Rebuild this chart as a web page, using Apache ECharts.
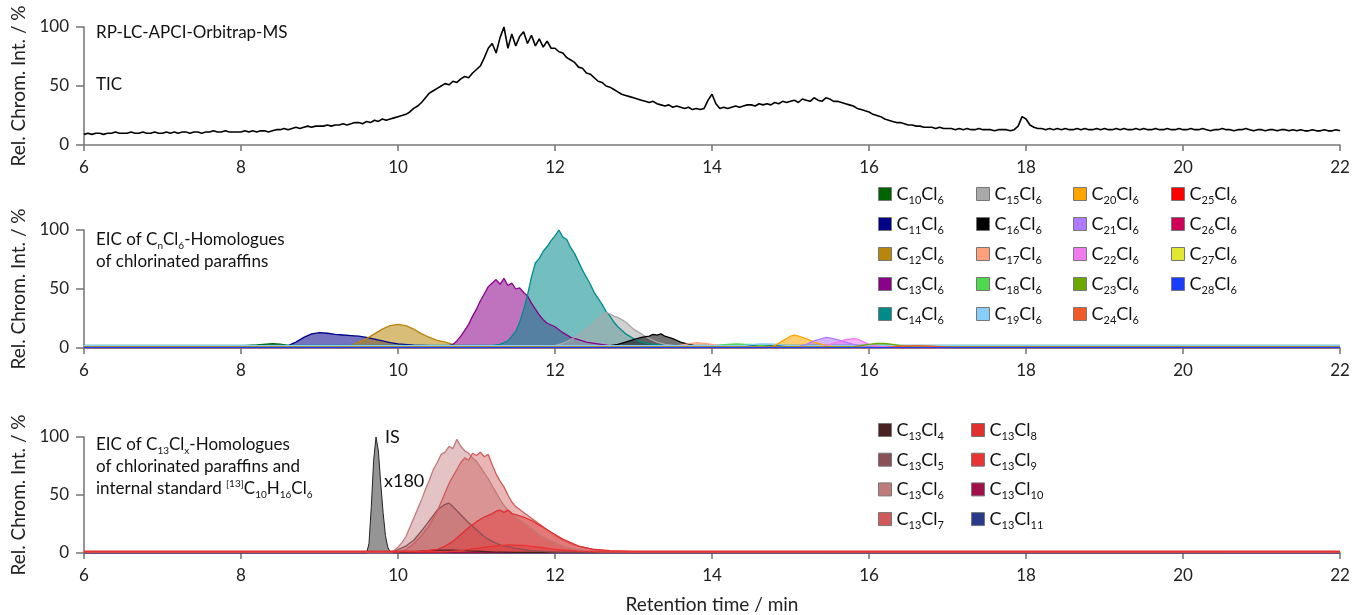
<!DOCTYPE html>
<html>
<head>
<meta charset="utf-8">
<title>RP-LC-APCI-Orbitrap-MS chromatograms</title>
<script src="https://cdn.jsdelivr.net/npm/echarts@6/dist/echarts.min.js"></script>
<style>
  html, body { margin: 0; padding: 0; background: #fff; }
  #chart { width: 1353px; height: 615px; }
</style>
</head>
<body>
<div id="chart"></div>
<script>
var F = 'Lato';

// x axis ticks (retention time, min)
var timeMin = 6, timeMax = 22, timeStep = 2;

// TIC, one value every 0.05 min from 6 min
var ticStart = 6, ticStep = 0.05;
var ticValues = [
  9,10,9,10,10,9,10,10,11,10,10,10,11,10,10,11,10,10,11,10,
  10,11,10,11,10,11,11,10,11,11,10,11,11,12,11,11,12,11,11,11,
  11,12,11,12,11,12,12,11,12,13,13,14,13,14,15,14,15,16,15,16,
  16,16,17,16,17,17,18,17,18,19,19,18,20,19,21,20,22,21,22,23,
  24,25,26,28,31,33,36,40,44,46,48,50,52,51,54,53,56,58,57,61,
  64,67,74,82,86,78,91,100,82,94,84,92,96,86,93,84,90,83,88,82,
  82,79,78,74,72,70,66,65,61,60,57,54,53,50,49,47,45,43,42,41,
  40,39,38,37,36,37,35,34,33,34,32,33,32,31,32,30,31,30,31,38,
  43,35,31,32,31,32,33,32,33,34,34,33,35,34,35,34,36,35,37,36,
  37,38,36,39,38,37,40,38,37,40,39,37,37,36,35,34,33,31,30,29,
  28,26,25,24,22,21,20,19,19,18,17,17,16,16,15,15,15,14,15,14,
  14,14,13,14,13,14,13,13,14,13,13,13,12,13,13,13,12,13,16,24,
  22,17,15,14,14,13,14,13,14,13,14,13,13,14,13,14,13,13,14,13,
  14,13,13,14,13,14,13,13,14,13,14,13,13,14,13,13,14,13,13,14,
  13,13,14,13,13,14,13,12,13,13,14,13,13,12,13,13,14,13,12,13,
  13,12,13,13,12,13,13,12,13,12,13,12,12,13,12,12,13,12,12,13,
  12
];

// EIC of CnCl6 homologues: [time, rel. intensity]
var c10Cl6 = [[6,1.8],[8.0,1.8],[8.2,2.6],[8.4,3.6],[8.5,3.2],[8.6,2.2],[8.8,1.8],[22,1.8]];
var c11Cl6 = [[6,2],[8.6,2],[8.7,5],[8.8,9],[8.9,12],[9.0,13],[9.1,12.5],[9.2,11.5],[9.3,11],[9.4,10.5],[9.5,10],[9.6,9],[9.7,7.5],[9.8,6],[9.9,4.5],[10.0,3.5],[10.2,2.5],[10.4,2],[22,2]];
var c12Cl6 = [[6,0.8],[9.3,0.8],[9.4,2],[9.5,5],[9.6,8],[9.7,12],[9.8,16],[9.9,19],[10.0,20],[10.1,19],[10.2,16],[10.3,12],[10.4,9],[10.5,6.5],[10.6,5],[10.7,3],[10.8,1.5],[11,0.8],[22,0.8]];
var c13Cl6 = [[6,1],[10.6,1],[10.7,3],[10.75,6],[10.8,10],[10.85,15],[10.9,20],[10.95,27],[11.0,33],[11.05,40],[11.1,46],[11.15,52],[11.2,55],[11.25,58],[11.3,54],[11.35,59],[11.4,53],[11.45,55],[11.5,50],[11.55,51],[11.6,47],[11.65,44],[11.7,38],[11.75,33],[11.8,28],[11.85,24],[11.9,21],[12.0,18],[12.1,13],[12.2,9],[12.3,7],[12.4,5],[12.5,4],[12.7,2],[12.9,1],[22,1]];
var c14Cl6 = [[6,2.2],[11.2,2.2],[11.3,3],[11.4,6],[11.5,14],[11.55,22],[11.6,32],[11.65,45],[11.7,60],[11.75,72],[11.8,76],[11.85,82],[11.9,86],[11.95,91],[12.0,95],[12.05,100],[12.1,94],[12.15,92],[12.2,85],[12.25,80],[12.3,73],[12.35,66],[12.4,60],[12.45,54],[12.5,47],[12.55,42],[12.6,37],[12.65,31],[12.7,27],[12.75,22],[12.8,18],[12.9,12],[13.0,8],[13.1,5],[13.2,3.5],[13.4,2.5],[22,2.2]];
var c15Cl6 = [[6,1],[11.9,1],[12.0,2],[12.1,4],[12.2,7],[12.3,11],[12.4,16],[12.5,21],[12.55,25],[12.6,28],[12.65,30],[12.7,29],[12.75,27],[12.8,26],[12.85,24],[12.9,22],[12.95,19],[13.0,16],[13.1,12],[13.2,8],[13.3,5],[13.4,3],[13.6,1.5],[13.8,1],[22,1]];
var c16Cl6 = [[6,1],[12.6,1],[12.8,3],[12.9,5],[13.0,7],[13.1,9],[13.2,10],[13.25,11.5],[13.3,11],[13.35,12],[13.4,10],[13.5,8],[13.6,5],[13.7,3],[13.8,1.5],[14,1],[22,1]];
var c17Cl6 = [[6,1],[13.4,1],[13.6,2.5],[13.7,3.5],[13.8,4.5],[13.9,4],[14.0,3],[14.1,2],[14.3,1],[22,1]];
var c18Cl6 = [[6,1],[13.9,1],[14.1,2.5],[14.2,3],[14.3,3.5],[14.4,3.2],[14.5,3],[14.6,2.2],[14.8,1],[22,1]];
var c19Cl6 = [[6,2],[14.4,2],[14.5,2.8],[14.6,3.5],[14.7,3.5],[14.8,3.2],[14.9,2.5],[15.0,2],[22,2]];
var c20Cl6 = [[6,0.5],[14.7,0.5],[14.8,2],[14.9,6],[15.0,10],[15.05,11],[15.1,10],[15.2,8],[15.3,5],[15.4,3],[15.5,1.5],[15.7,0.5],[22,0.5]];
var c21Cl6 = [[6,1],[15.1,1],[15.2,3],[15.3,6],[15.4,8],[15.45,9],[15.5,8.5],[15.6,7],[15.7,5],[15.8,3],[15.9,1.5],[16,1],[22,1]];
var c22Cl6 = [[6,1],[15.4,1],[15.5,3],[15.6,5],[15.7,7],[15.8,8],[15.85,7.5],[15.9,6],[16.0,3],[16.1,1.5],[16.2,1],[22,1]];
var c23Cl6 = [[6,1],[15.8,1],[15.9,2],[16.0,3],[16.1,4],[16.2,4],[16.3,3],[16.4,2],[16.6,1],[22,1]];
var c24Cl6 = [[6,0.5],[16.2,0.5],[16.4,1.5],[16.6,2],[16.8,1.5],[17.0,0.8],[17.3,0.5],[22,0.5]];
var c25Cl6 = [[6,0.3],[22,0.3]];
var c26Cl6 = [[6,0.3],[22,0.3]];
var c27Cl6 = [[6,0.3],[22,0.3]];
var c28Cl6 = [[6,0.3],[22,0.3]];

var cnNames = ['C10Cl6','C11Cl6','C12Cl6','C13Cl6','C14Cl6','C15Cl6','C16Cl6','C17Cl6','C18Cl6','C19Cl6',
               'C20Cl6','C21Cl6','C22Cl6','C23Cl6','C24Cl6','C25Cl6','C26Cl6','C27Cl6','C28Cl6'];
var cnData = [c10Cl6,c11Cl6,c12Cl6,c13Cl6,c14Cl6,c15Cl6,c16Cl6,c17Cl6,c18Cl6,c19Cl6,
              c20Cl6,c21Cl6,c22Cl6,c23Cl6,c24Cl6,c25Cl6,c26Cl6,c27Cl6,c28Cl6];
var cnColors = ['#006400','#00008b','#b8860b','#8b008b','#008b8b','#a9a9a9','#000000','#ffa07a','#4cdb4c','#87cefa',
                '#ffa500','#b07aff','#f07af0','#6aa800','#f05a28','#ff0000','#d0005a','#e0e830','#1a3cff'];

// EIC of C13Clx homologues + internal standard (x180)
var isPeak = [[6,0],[9.6,0],[9.63,8],[9.66,40],[9.69,80],[9.72,100],[9.75,88],[9.78,60],[9.81,35],[9.84,15],[9.87,5],[9.9,1],[9.95,0],[22,0]];
var c13Cl4 = [[6,0.5],[10.1,0.5],[10.3,1.5],[10.5,2.5],[10.7,2.5],[10.9,1.8],[11.2,1],[11.5,0.5],[22,0.5]];
var c13Cl5 = [[6,0.5],[9.9,0.5],[10.0,3],[10.1,6],[10.2,11],[10.3,19],[10.4,28],[10.5,37],[10.6,42],[10.65,43],[10.7,40],[10.8,33],[10.9,26],[11.0,20],[11.1,14],[11.2,10],[11.3,7],[11.5,4],[11.7,2],[12.0,0.8],[22,0.5]];
var c13Cl6x = [[6,1],[9.9,1],[9.95,2],[10.0,5],[10.05,9],[10.1,14],[10.15,22],[10.2,30],[10.25,38],[10.3,46],[10.35,55],[10.4,63],[10.45,72],[10.5,78],[10.55,85],[10.6,87],[10.65,92],[10.7,90],[10.75,98],[10.8,92],[10.85,88],[10.9,86],[10.95,82],[11.0,79],[11.05,74],[11.1,69],[11.15,64],[11.2,58],[11.25,52],[11.3,46],[11.35,41],[11.4,37],[11.5,31],[11.6,26],[11.7,21],[11.8,16],[11.9,12],[12.0,9],[12.1,6],[12.2,4],[12.4,2],[12.6,1],[22,1]];
var c13Cl7 = [[6,1],[10.0,1],[10.1,3],[10.2,8],[10.3,15],[10.4,24],[10.5,36],[10.55,44],[10.6,52],[10.65,60],[10.7,66],[10.75,72],[10.8,78],[10.85,82],[10.9,80],[10.95,86],[11.0,84],[11.05,87],[11.1,83],[11.15,85],[11.2,76],[11.25,68],[11.3,62],[11.35,57],[11.4,50],[11.45,44],[11.5,40],[11.6,35],[11.7,30],[11.8,25],[11.9,20],[12.0,15],[12.1,11],[12.2,8],[12.3,6],[12.5,3],[12.7,1.5],[13.0,1],[22,1]];
var c13Cl8 = [[6,1.5],[10.3,1.5],[10.5,3],[10.6,6],[10.7,10],[10.8,16],[10.9,22],[11.0,27],[11.1,31],[11.2,34],[11.25,36],[11.3,37],[11.35,35],[11.4,37],[11.45,34],[11.5,33],[11.6,31],[11.7,28],[11.8,24],[11.9,20],[12.0,16],[12.1,12],[12.2,9],[12.3,6],[12.5,3],[12.7,2],[13.0,1.5],[22,1.5]];
var c13Cl9 = [[6,1],[10.6,1],[10.8,2],[11.0,4],[11.2,6],[11.4,7],[11.6,6.5],[11.8,5],[12.0,3],[12.3,1.5],[12.6,1],[22,1]];
var c13Cl10 = [[6,0.3],[22,0.3]];
var c13Cl11 = [[6,0.1],[22,0.1]];

// trailing space keeps these names apart from the CnCl6 series (C13Cl6 exists in both panels)
var clNames = ['C13Cl4 ','C13Cl5 ','C13Cl6 ','C13Cl7 ','C13Cl8 ','C13Cl9 ','C13Cl10 ','C13Cl11 '];
var clData = [c13Cl4,c13Cl5,c13Cl6x,c13Cl7,c13Cl8,c13Cl9,c13Cl10,c13Cl11];
var clColors = ['#4a2222','#8a5058','#c07a7a','#d05a5a','#e03030','#e83434','#a0104a','#2a3a8a'];
// drawing order: baseline-only traces first so the red ones stay on top
var clDrawOrder = [7, 6, 0, 1, 2, 3, 4, 5];

var chart = echarts.init(document.getElementById('chart'));

var axisColor = '#7a7a7a';
var ticData = ticValues.map(function (v, i) { return [ticStart + i * ticStep, v]; });

function xAxisOf(idx, withName) {
  return {
    type: 'value', gridIndex: idx, min: timeMin, max: timeMax, interval: timeStep,
    axisLine: { lineStyle: { color: axisColor, width: 1.6 } },
    axisTick: { length: 6, lineStyle: { color: axisColor, width: 1.6 } },
    axisLabel: { fontSize: 17, color: '#222', margin: 14, fontFamily: F },
    splitLine: { show: false },
    name: withName ? 'Retention time / min' : '',
    nameLocation: 'middle', nameGap: 42,
    nameTextStyle: { fontSize: 19, color: '#222', fontFamily: F }
  };
}
function yAxisOf(idx) {
  return {
    type: 'value', gridIndex: idx, min: 0, max: 100, interval: 50,
    axisLine: { show: true, lineStyle: { color: axisColor, width: 1.6 } },
    axisTick: { show: true, length: 8, lineStyle: { color: axisColor, width: 1.6 } },
    axisLabel: { fontSize: 17, color: '#222', margin: 15, fontFamily: F },
    splitLine: { show: false },
    name: 'Rel. Chrom. Int. / %', nameLocation: 'middle', nameGap: 56, nameRotate: 90,
    nameTextStyle: { fontSize: 19, color: '#222', fontFamily: F }
  };
}

function chemLabel(name) {
  var m = name.match(/^C(\d+)Cl(\w+)/);
  return '{m|C}{s|' + m[1] + '}{m|Cl}{s|' + m[2] + '}';
}
var legendRich = {
  m: { fontSize: 18, lineHeight: 24, fontFamily: F, color: '#111' },
  s: { fontSize: 11, lineHeight: 11, verticalAlign: 'bottom', fontFamily: F, color: '#111' }
};
function legendCol(names, left, top, gap) {
  return {
    orient: 'vertical', left: left, top: top, padding: 0, data: names,
    icon: 'rect', itemWidth: 13, itemHeight: 13, itemGap: gap, selectedMode: false,
    itemStyle: { borderColor: '#777', borderWidth: 1 },
    formatter: chemLabel,
    textStyle: { fontFamily: F, color: '#111', rich: legendRich }
  };
}

function areaSeries(name, data, color, axis, fillOpacity) {
  return {
    name: name, type: 'line', data: data, xAxisIndex: axis, yAxisIndex: axis,
    symbol: 'none', silent: true, color: color,
    lineStyle: { color: color, width: 1.3 },
    areaStyle: { color: color, opacity: fillOpacity }
  };
}

var series = [{
  name: 'TIC', type: 'line', data: ticData, xAxisIndex: 0, yAxisIndex: 0,
  symbol: 'none', silent: true, lineStyle: { color: '#000', width: 1.6 }
}];
cnNames.forEach(function (n, i) { series.push(areaSeries(n, cnData[i], cnColors[i], 1, 0.55)); });
series.push({
  name: 'IS', type: 'line', data: isPeak, xAxisIndex: 2, yAxisIndex: 2, symbol: 'none', silent: true,
  lineStyle: { color: '#222', width: 1 }, areaStyle: { color: '#8a8a8a', opacity: 0.9 }
});
clDrawOrder.forEach(function (i) { series.push(areaSeries(clNames[i], clData[i], clColors[i], 2, 0.45)); });

var tRich = {
  t: { fontSize: 17, lineHeight: 21, fontFamily: F, color: '#111' },
  s: { fontSize: 10, lineHeight: 10, verticalAlign: 'bottom', fontFamily: F, color: '#111' },
  p: { fontSize: 10, lineHeight: 10, verticalAlign: 'top', fontFamily: F, color: '#111' }
};
function label(x, y, text, size) {
  return {
    type: 'text', x: x, y: y, silent: true,
    style: { text: text, rich: tRich, font: (size || 17) + 'px ' + F, fill: '#111', verticalAlign: 'middle' }
  };
}

chart.setOption({
  animation: false,
  backgroundColor: '#fff',
  textStyle: { fontFamily: F },
  grid: [
    { left: 84, right: 13, top: 27, height: 118 },
    { left: 84, right: 13, top: 230, height: 118 },
    { left: 84, right: 13, top: 437, height: 118 }
  ],
  xAxis: [xAxisOf(0, false), xAxisOf(1, false), xAxisOf(2, true)],
  yAxis: [yAxisOf(0), yAxisOf(1), yAxisOf(2)],
  legend: [
    legendCol(cnNames.slice(0, 5), 878, 185, 9),
    legendCol(cnNames.slice(5, 10), 976, 185, 9),
    legendCol(cnNames.slice(10, 15), 1073, 185, 9),
    legendCol(cnNames.slice(15, 19), 1171, 185, 9),
    legendCol(clNames.slice(0, 4), 878, 421, 8.7),
    legendCol(clNames.slice(4, 8), 971, 421, 8.7)
  ],
  graphic: [
    label(96, 33, 'RP-LC-APCI-Orbitrap-MS'),
    label(96, 85, 'TIC'),
    label(96, 240, '{t|EIC of C}{s|n}{t|Cl}{s|6}{t|-Homologues}'),
    label(96, 262, 'of chlorinated paraffins'),
    label(96, 445, '{t|EIC of C}{s|13}{t|Cl}{s|x}{t|-Homologues}'),
    label(96, 467, 'of chlorinated paraffins and'),
    label(96, 489, '{t|internal standard }{p|[13]}{t|C}{s|10}{t|H}{s|16}{t|Cl}{s|6}'),
    label(385, 437, 'IS', 18),
    label(384, 481, 'x180', 18)
  ],
  series: series
});
</script>
</body>
</html>
